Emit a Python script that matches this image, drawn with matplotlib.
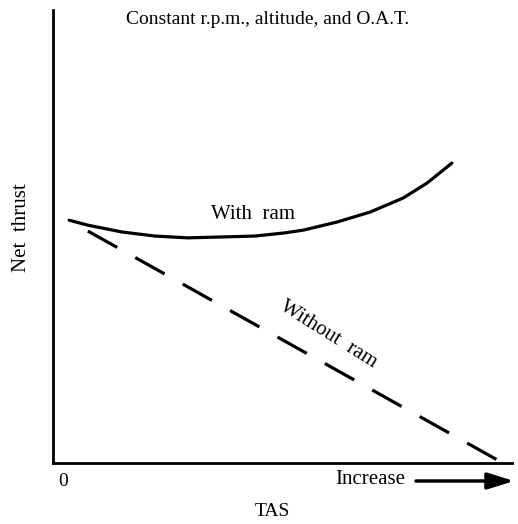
import numpy as np
import matplotlib.pyplot as plt

#  Curve values (TAS and net thrust on a 0-100 scale).
with_ram_tas = [3.5, 7.6, 15.0, 22.2, 29.4, 36.8, 44.0, 50.5, 54.5, 61.9,
                69.1, 76.3, 81.5, 86.9]
with_ram_thrust = [53.6, 52.5, 51.0, 50.1, 49.7, 49.9, 50.1, 50.8, 51.4, 53.2,
                   55.4, 58.5, 61.8, 66.2]
without_ram_tas = [7.6, 98.0]
without_ram_thrust = [51.2, 0.0]

plt.rcParams['font.family'] = ['Liberation Serif', 'DejaVu Serif']

fig = plt.figure(figsize=(5.18, 5.24), dpi=100)
W, H = 518.0, 524.0
ax = fig.add_axes([53 / W, (H - 463) / H, (512 - 53) / W, (463 - 10) / H])
ax.set_xlim(0, 100)
ax.set_ylim(0, 100)
ax.spines['top'].set_visible(False)
ax.spines['right'].set_visible(False)
ax.spines['left'].set_linewidth(2)
ax.spines['bottom'].set_linewidth(2)
ax.set_xticks([])
ax.set_yticks([])

ax.plot(with_ram_tas, with_ram_thrust, color='black', lw=2.3,
        solid_capstyle='round', solid_joinstyle='round')
ax.plot(without_ram_tas, without_ram_thrust, color='black', lw=2.3,
        dashes=(10.5, 6.5))

#  Text labels placed in figure pixels.
fig.text(268 / W, 1 - 20 / H, 'Constant r.p.m., altitude, and O.A.T.',
         ha='center', va='center', fontsize=14)
fig.text(253 / W, 1 - 215 / H, 'With  ram', ha='center', va='center', fontsize=15)
fig.text(328 / W, 1 - 335 / H, 'Without  ram', ha='center', va='center',
         fontsize=15, rotation=-32)
fig.text(22 / W, 1 - 228 / H, 'Net  thrust', ha='center', va='center',
         fontsize=15, rotation=90)
fig.text(63 / W, 1 - 481 / H, '0', ha='center', va='center', fontsize=14)
fig.text(370 / W, 1 - 480 / H, 'Increase', ha='center', va='center', fontsize=15)
fig.text(272 / W, 1 - 512 / H, 'TAS', ha='center', va='center', fontsize=14)
fig.add_artist(plt.Annotation('', xy=(514 / W, 1 - 481 / H),
                              xytext=(416 / W, 1 - 481 / H),
                              xycoords='figure fraction',
                              arrowprops=dict(arrowstyle='-|>,head_length=1.6,head_width=0.5',
                                              color='black', lw=2.5,
                                              shrinkA=0, shrinkB=0)))

fig.savefig('out.png', dpi=100)
